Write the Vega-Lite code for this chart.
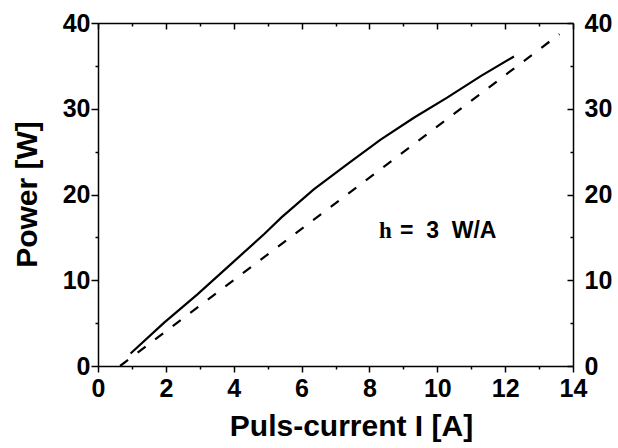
{
  "$schema": "https://vega.github.io/schema/vega-lite/v6.json",
  "width": 475,
  "height": 343,
  "autosize": "none",
  "padding": {"left": 98, "top": 23, "right": 45, "bottom": 82},
  "background": "white",
  "config": {
    "view": {"stroke": null},
    "axis": {
      "domainColor": "black", "domainWidth": 1.5, "tickColor": "black", "tickWidth": 1.5,
      "labelFont": "Liberation Sans", "labelFontWeight": "bold", "labelFontSize": 25, "labelColor": "black",
      "titleFont": "Liberation Sans", "titleFontWeight": "bold", "titleFontSize": 30, "titleColor": "black",
      "grid": false
    }
  },
  "datasets": {
    "measured": [
      {"I": 0.96, "P": 1.45}, {"I": 1.95, "P": 5.06}, {"I": 2.93, "P": 8.36}, {"I": 3.91, "P": 11.85},
      {"I": 4.9, "P": 15.4}, {"I": 5.4, "P": 17.3}, {"I": 6.36, "P": 20.6}, {"I": 7.34, "P": 23.5},
      {"I": 8.33, "P": 26.4}, {"I": 9.31, "P": 28.95}, {"I": 10.29, "P": 31.3}, {"I": 11.28, "P": 33.8},
      {"I": 12.26, "P": 36.1}
    ],
    "fit": [{"I": 0.65, "P": 0}, {"I": 13.6, "P": 38.7}]
  },
  "resolve": {"axis": {"x": "independent", "y": "independent"}},
  "layer": [
    {
      "data": {"name": "measured"},
      "mark": {"type": "line", "color": "black", "strokeWidth": 2.2},
      "encoding": {
        "x": {"field": "I", "type": "quantitative", "scale": {"domain": [0, 14], "nice": false},
          "axis": {"title": "Puls-current I [A]", "values": [0,1,2,3,4,5,6,7,8,9,10,11,12,13,14],
            "labelExpr": "datum.value % 2 === 0 ? datum.label : ''",
            "tickSize": {"condition": {"test": "datum.value % 2 === 0", "value": 6}, "value": 3},
            "labelPadding": 4, "titleX": 253, "titleY": 69, "titleBaseline": "alphabetic", "labelFlush": false}},
        "y": {"field": "P", "type": "quantitative", "scale": {"domain": [0, 40], "nice": false},
          "axis": {"title": "Power [W]", "values": [0,5,10,15,20,25,30,35,40],
            "labelExpr": "datum.value % 10 === 0 ? datum.label : ''",
            "tickSize": {"condition": {"test": "datum.value % 10 === 0", "value": 7}, "value": 3},
            "labelPadding": 1, "titleX": -62, "titleY": 171, "titleBaseline": "alphabetic", "labelFlush": false}}
      }
    },
    {
      "data": {"name": "fit"},
      "mark": {"type": "line", "color": "black", "strokeWidth": 2.2, "strokeDash": [10, 12]},
      "encoding": {
        "x": {"field": "I", "type": "quantitative",
          "axis": {"orient": "top", "title": null, "labels": false, "values": [0,1,2,3,4,5,6,7,8,9,10,11,12,13,14],
            "tickSize": {"condition": {"test": "datum.value % 2 === 0", "value": -6}, "value": -3}}},
        "y": {"field": "P", "type": "quantitative",
          "axis": {"orient": "right", "title": null, "values": [0,5,10,15,20,25,30,35,40],
            "labelExpr": "datum.value % 10 === 0 ? datum.label : ''",
            "tickSize": {"condition": {"test": "datum.value % 10 === 0", "value": -6}, "value": -3},
            "labelPadding": 17, "labelFlush": false}}
      }
    },
    {
      "data": {"values": [{"I": 8.9, "P": 14.9, "t": "=\u00a0 3\u00a0 W/A"}]},
      "mark": {"type": "text", "align": "left", "baseline": "alphabetic", "font": "Liberation Sans", "fontWeight": "bold", "fontSize": 23, "color": "black"},
      "encoding": {
        "x": {"field": "I", "type": "quantitative", "axis": null},
        "y": {"field": "P", "type": "quantitative", "axis": null},
        "text": {"field": "t"}
      }
    },
    {
      "data": {"values": [{"I": 8.47, "P": 14.9, "t": "h"}]},
      "mark": {"type": "text", "align": "center", "baseline": "alphabetic", "font": "Liberation Serif", "fontWeight": "bold", "fontSize": 23, "color": "black"},
      "encoding": {
        "x": {"field": "I", "type": "quantitative", "axis": null},
        "y": {"field": "P", "type": "quantitative", "axis": null},
        "text": {"field": "t"}
      }
    }
  ]
}
